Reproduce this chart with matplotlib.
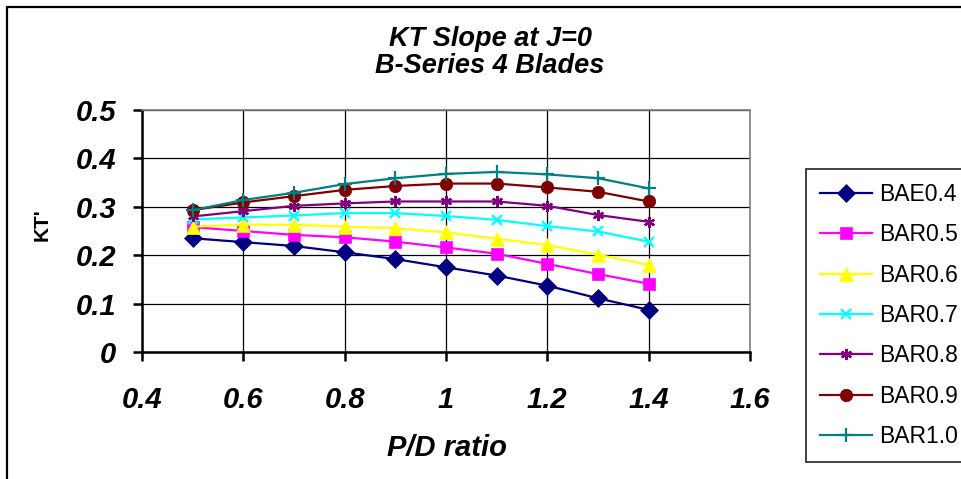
import numpy as np
import matplotlib
matplotlib.use('Agg')
import matplotlib.pyplot as plt
from matplotlib.patches import Rectangle

plt.rcParams['font.family'] = ['Liberation Sans', 'DejaVu Sans']

# P/D ratio
pd_ratio = [0.5, 0.6, 0.7, 0.8, 0.9, 1.0, 1.1, 1.2, 1.3, 1.4]

# KT' per blade area ratio
bae04 = [0.235, 0.227, 0.219, 0.206, 0.192, 0.175, 0.158, 0.137, 0.111, 0.087]
bar05 = [0.258, 0.250, 0.242, 0.237, 0.228, 0.216, 0.203, 0.182, 0.161, 0.141]
bar06 = [0.259, 0.263, 0.263, 0.259, 0.256, 0.247, 0.234, 0.221, 0.201, 0.180]
bar07 = [0.274, 0.278, 0.282, 0.287, 0.287, 0.281, 0.273, 0.260, 0.249, 0.228]
bar08 = [0.280, 0.291, 0.302, 0.307, 0.311, 0.311, 0.311, 0.302, 0.283, 0.269]
bar09 = [0.293, 0.309, 0.322, 0.335, 0.343, 0.348, 0.348, 0.340, 0.331, 0.311]
bar10 = [0.293, 0.314, 0.329, 0.347, 0.359, 0.368, 0.372, 0.367, 0.359, 0.338]

labels = ['BAE0.4', 'BAR0.5', 'BAR0.6', 'BAR0.7', 'BAR0.8', 'BAR0.9', 'BAR1.0']
series = [bae04, bar05, bar06, bar07, bar08, bar09, bar10]
colors = ['#000080', '#FF00FF', '#FFFF00', '#00FFFF', '#800080', '#800000', '#008080']
markers = ['D', 's', '^', 'x', (6, 2, 0), 'o', '+']
msizes = [9, 8, 10, 7, 8, 9, 10]

xticks = [0.4, 0.6, 0.8, 1.0, 1.2, 1.4, 1.6]
xticklabels = ['0.4', '0.6', '0.8', '1', '1.2', '1.4', '1.6']
yticks = [0, 0.1, 0.2, 0.3, 0.4, 0.5]
yticklabels = ['0', '0.1', '0.2', '0.3', '0.4', '0.5']

W, H = 961, 479
fig = plt.figure(figsize=(W / 100, H / 100), dpi=100, facecolor='white')
ax = fig.add_axes([142 / W, 1 - 352 / H, (750 - 142) / W, (352 - 110) / H])

for ys, lab, c, m, ms in zip(series, labels, colors, markers, msizes):
    ax.plot(pd_ratio, ys, color=c, marker=m, markersize=ms, lw=1.6,
            markeredgewidth=1.6 if m in ('x', '+', (6, 2, 0)) else 0.5,
            markeredgecolor=c, label=lab, clip_on=False)

ax.set_xlim(0.4, 1.6)
ax.set_ylim(0, 0.5)
ax.set_xticks(xticks)
ax.set_xticklabels(xticklabels)
ax.set_yticks(yticks)
ax.set_yticklabels(yticklabels)
for t in ax.get_xticklabels() + ax.get_yticklabels():
    t.set_fontsize(21)
    t.set_fontweight('bold')
    t.set_fontstyle('italic')
ax.tick_params(axis='x', direction='out', length=6.5, width=1.8, pad=18)
ax.tick_params(axis='y', direction='out', length=6.5, width=1.8, pad=12)
ax.grid(True, color='black', lw=0.9)
ax.set_axisbelow(True)

ax.spines['left'].set_linewidth(1.8)
ax.spines['bottom'].set_linewidth(1.8)
ax.spines['top'].set_color('#808080')
ax.spines['right'].set_color('#808080')
ax.spines['top'].set_linewidth(1.2)
ax.spines['right'].set_linewidth(1.2)

# titles and labels
fig.text(490 / W, 1 - 39 / H, 'KT Slope at J=0', ha='center', va='center',
         fontsize=19.5, fontweight='bold', fontstyle='italic')
fig.text(490 / W, 1 - 66 / H, 'B-Series 4 Blades', ha='center', va='center',
         fontsize=19.5, fontweight='bold', fontstyle='italic')
fig.text(447 / W, 1 - 448 / H, 'P/D ratio', ha='center', va='center',
         fontsize=21, fontweight='bold', fontstyle='italic')
fig.text(42 / W, 1 - 225 / H, "KT'", ha='center', va='center', rotation=90,
         fontsize=15, fontweight='bold')

leg = fig.legend(loc='upper left', bbox_to_anchor=(806 / W, 1 - 169 / H),
                 fontsize=16.5, frameon=True, fancybox=False, borderpad=0.6,
                 labelspacing=0.76, handlelength=2.3, handletextpad=0.3,
                 borderaxespad=0)
leg.get_frame().set_edgecolor('black')
leg.get_frame().set_linewidth(1.3)

# chart border
fig.patches.append(Rectangle((7 / W, -0.1), 1.2, 1 - 7 / H + 0.1, transform=fig.transFigure,
                             fill=False, edgecolor='black', lw=1.6))

fig.savefig('out.png', dpi=100)
